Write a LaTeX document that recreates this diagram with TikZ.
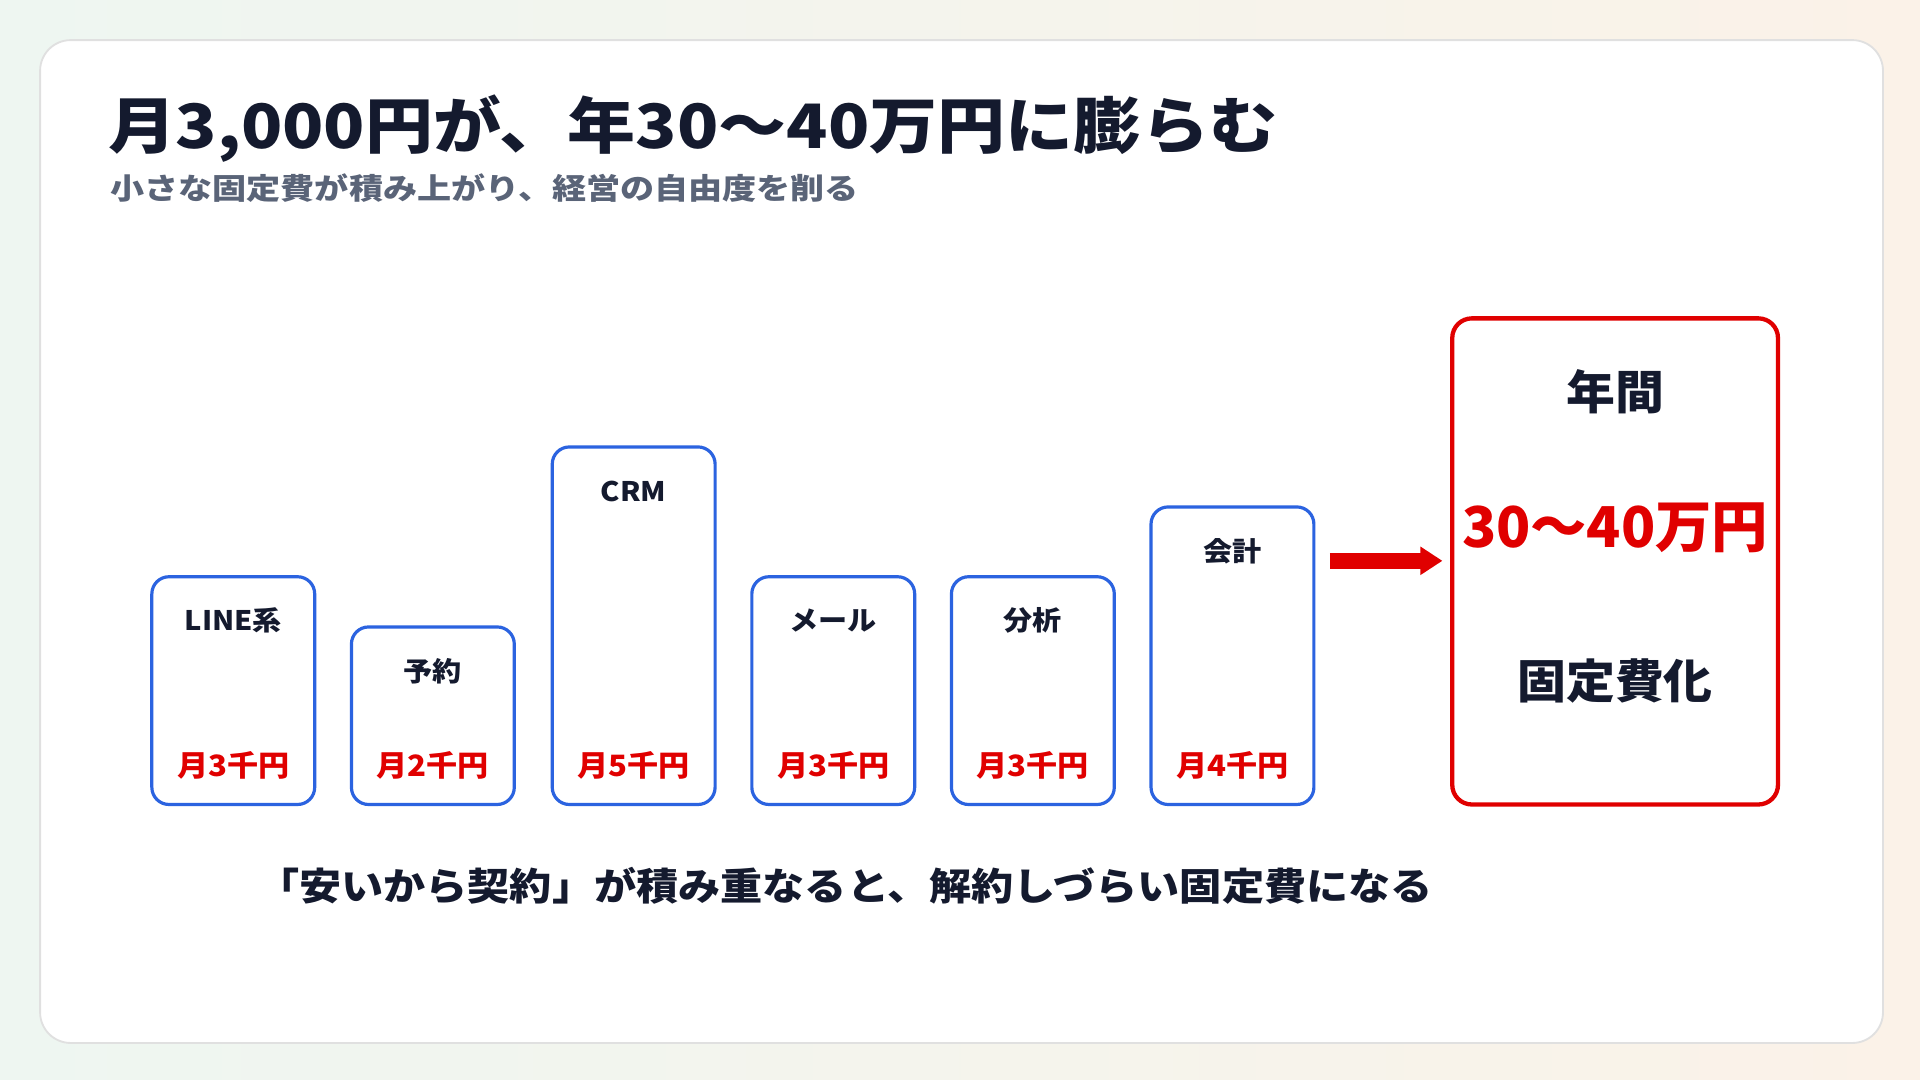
\documentclass[tikz,border=0pt]{standalone}
\usepackage{fontspec}
\usepackage{graphicx}
\setmainfont{Noto Sans CJK JP}
\usetikzlibrary{arrows.meta}
\definecolor{navy}{HTML}{141A2E}
\definecolor{subg}{HTML}{5A6478}
\definecolor{bblue}{HTML}{2B63E0}
\definecolor{rred}{HTML}{E00000}
\definecolor{bgl}{HTML}{EEF6F1}
\definecolor{bgr}{HTML}{FBF2E8}
\tikzset{
 cost/.style={draw=bblue,line width=2.6pt,rounded corners=14pt,fill=white},
 lab/.style={font=\bfseries\fontsize{22}{24}\selectfont,text=navy},
 price/.style={font=\bfseries\fontsize{24}{26}\selectfont,text=rred},
 big/.style={font=\bfseries\fontsize{38}{40}\selectfont,text=navy},
}
\begin{document}
\begin{tikzpicture}[x=1pt,y=-1pt]
\shade[left color=bgl,right color=bgr] (0,0) rectangle (1568,882);
\useasboundingbox (0,0) rectangle (1568,882);
\node[draw=black!12,line width=1.5pt,fill=white,rounded corners=25pt,minimum width=1505pt,minimum height=819pt,anchor=north west] (card) at (32,32) {};
\node[anchor=west,font=\bfseries\fontsize{50}{54}\selectfont,text=navy,inner sep=0] (title) at (88,105) {\scalebox{1.11}[1]{月3,000円が、年30〜40万円に膨らむ}};
\node[anchor=west,font=\bfseries\fontsize{24}{26}\selectfont,text=subg,inner sep=0] (sub) at (90,154) {\scalebox{1.16}[1]{小さな固定費が積み上がり、経営の自由度を削る}};
\foreach \n/\x/\t/\l/\p in {a/124/471/LINE系/月3千円, b/287/512/予約/月2千円, c/451/365/CRM/月5千円, d/614/471/メール/月3千円, e/777/471/分析/月3千円, f/940/414/会計/月4千円}{
  \draw[cost] (\x,\t) rectangle (\x+133,657);
  \node[lab] (l\n) at (\x+66.5,\t+36) {\scalebox{1.08}[1]{\l}};
  \node[price] (p\n) at (\x+66.5,625) {\scalebox{1.06}[1]{\p}};
}
\coordinate (as) at (1086,458);
\coordinate (ae) at (1178,458);
\draw[rred,line width=13pt,-{Triangle[length=18pt,width=22pt]}] (as) -- (ae);
\draw[draw=rred,line width=3.5pt,rounded corners=16pt] (1186,260) rectangle (1452,657);
\node[big] (yr) at (1319,320) {\scalebox{1.05}[1]{年間}};
\node[font=\bfseries\fontsize{46}{48}\selectfont,text=rred] (amt) at (1319,431) {30〜40万円};
\node[big] (fix) at (1319,556) {\scalebox{1.05}[1]{固定費化}};
\node[font=\bfseries\fontsize{31}{34}\selectfont,text=navy] (bot) at (690,723) {\scalebox{1.11}[1]{「安いから契約」が積み重なると、解約しづらい固定費になる}};
\end{tikzpicture}
\end{document}
